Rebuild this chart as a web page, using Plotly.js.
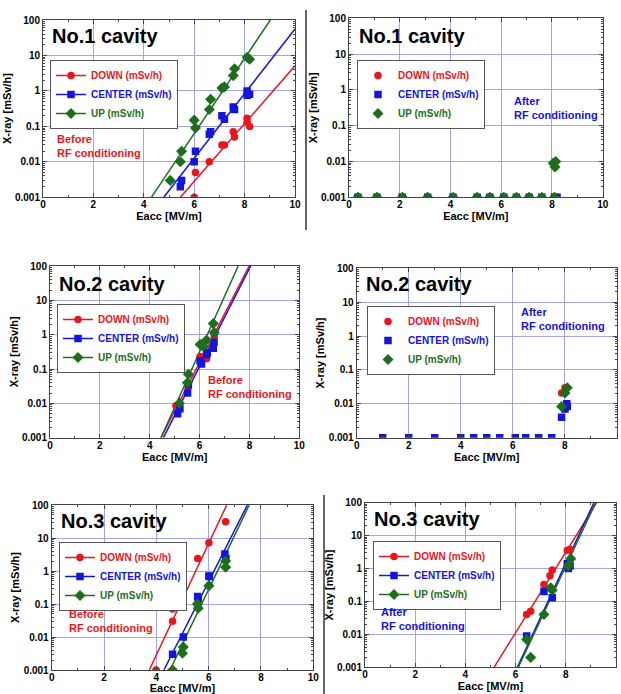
<!DOCTYPE html>
<html>
<head>
<meta charset="utf-8">
<script src="https://cdn.plot.ly/plotly-3.0.1.min.js"></script>
<style>html,body{margin:0;padding:0;background:#fff;}#chart{width:621px;height:694px;}</style>
</head>
<body>
<div id="chart"></div>
<script>
// ---------- tick labels ----------
const yTickVals = [0.001, 0.01, 0.1, 1, 10, 100];
const yTickText = ['0.001', '0.01', '0.1', '1', '10', '100'];
const seriesNames = ['DOWN (mSv/h)', 'CENTER (mSv/h)', 'UP (mSv/h)'];
const panelTitles = ['No.1 cavity', 'No.1 cavity', 'No.2 cavity', 'No.2 cavity', 'No.3 cavity', 'No.3 cavity'];

// ---------- Panel 1: No.1 before ----------
const p1DownX = [6.0, 6.05, 6.6, 7.1, 7.2, 7.55, 7.6, 8.1, 8.1, 8.2];
const p1DownY = [0.001, 0.005, 0.01, 0.03, 0.03, 0.07, 0.05, 0.17, 0.13, 0.1];
const p1CenterX = [5.45, 5.5, 6.0, 6.05, 6.6, 6.65, 7.1, 7.2, 7.55, 7.6, 8.1, 8.1, 8.2];
const p1CenterY = [0.002, 0.003, 0.01, 0.02, 0.06, 0.07, 0.2, 0.16, 0.35, 0.3, 1.0, 0.75, 0.8];
const p1UpX = [5.05, 5.45, 5.5, 6.0, 6.05, 6.6, 6.65, 7.1, 7.2, 7.55, 7.6, 8.1, 8.2];
const p1UpY = [0.003, 0.01, 0.02, 0.15, 0.09, 0.3, 0.58, 1.2, 1.3, 2.7, 4.2, 8.9, 7.8];
const p1DownFitX = [5.45, 10], p1DownFitY = [0.001, 5.1];
const p1CenterFitX = [4.79, 10], p1CenterFitY = [0.001, 56];
const p1UpFitX = [4.3, 9.02], p1UpFitY = [0.001, 100];

// ---------- Panel 2: No.1 after ----------
const p2DownX = [0.35, 1.1, 2.1, 3.1, 4.1, 5.05, 5.55, 6.1, 6.6, 7.1, 7.6, 8.1];
const p2DownY = [0.001, 0.001, 0.001, 0.001, 0.001, 0.001, 0.001, 0.001, 0.001, 0.001, 0.001, 0.001];
const p2CenterX = [0.35, 1.1, 2.1, 3.1, 4.1, 5.05, 5.55, 6.1, 6.6, 7.1, 7.6, 8.1, 8.2];
const p2CenterY = [0.001, 0.001, 0.001, 0.001, 0.001, 0.001, 0.001, 0.001, 0.001, 0.001, 0.001, 0.001, 0.001];
const p2UpX = [0.35, 1.1, 2.1, 3.1, 4.1, 5.05, 5.55, 6.1, 6.6, 7.1, 7.6, 8.1, 8.05, 8.15, 8.12];
const p2UpY = [0.001, 0.001, 0.001, 0.001, 0.001, 0.001, 0.001, 0.001, 0.001, 0.001, 0.001, 0.001, 0.009, 0.01, 0.007];

// ---------- Panel 3: No.2 before ----------
const p3DownX = [5.05, 5.55, 6.02, 6.28, 6.59];
const p3DownY = [0.0085, 0.03, 0.23, 0.2, 0.9];
const p3CenterX = [5.12, 5.21, 5.52, 5.55, 6.02, 6.08, 6.28, 6.31, 6.55, 6.58];
const p3CenterY = [0.005, 0.007, 0.02, 0.035, 0.17, 0.14, 0.26, 0.3, 0.4, 0.6];
const p3UpX = [5.19, 5.51, 5.55, 6.02, 6.08, 6.15, 6.28, 6.55, 6.59];
const p3UpY = [0.01, 0.04, 0.07, 0.52, 0.5, 0.45, 0.7, 2.1, 1.15];
const p3DownFitX = [4.45, 7.99], p3DownFitY = [0.001, 100];
const p3CenterFitX = [4.55, 8.05], p3CenterFitY = [0.001, 100];
const p3UpFitX = [4.45, 7.55], p3UpFitY = [0.001, 100];

// ---------- Panel 4: No.2 after ----------
const p4DownX = [7.88, 8.01];
const p4DownY = [0.021, 0.03];
const p4CenterX = [1, 2, 3, 4, 4.5, 5, 5.5, 6.1, 6.5, 7, 7.5, 7.88, 8.01, 8.08, 8.1];
const p4CenterY = [0.001, 0.001, 0.001, 0.001, 0.001, 0.001, 0.001, 0.001, 0.001, 0.001, 0.001, 0.004, 0.007, 0.01, 0.0083];
const p4UpX = [7.88, 8.01, 8.1];
const p4UpY = [0.0083, 0.021, 0.03];

// ---------- Panel 5: No.3 before ----------
const p5DownX = [3.99, 4.62, 4.62, 5.01, 5.58, 6.01, 6.65];
const p5DownY = [0.001, 0.03, 0.07, 0.28, 2.4, 7.2, 31];
const p5CenterX = [4.62, 5.03, 5.58, 5.6, 6.01, 6.03, 6.62, 6.66];
const p5CenterY = [0.003, 0.01, 0.17, 0.15, 0.7, 0.68, 3.3, 2.4];
const p5UpX = [4.62, 5.0, 5.03, 5.57, 5.6, 6.01, 6.65, 6.65];
const p5UpY = [0.001, 0.0032, 0.005, 0.1, 0.074, 0.36, 2.0, 1.3];
const p5DownFitX = [3.73, 6.69], p5DownFitY = [0.001, 100];
const p5CenterFitX = [4.29, 7.48], p5CenterFitY = [0.001, 100];
const p5UpFitX = [4.52, 7.55], p5UpFitY = [0.001, 100];

// ---------- Panel 6: No.3 after ----------
const p6DownX = [6.44, 6.6, 7.13, 7.37, 7.46, 8.06, 8.17];
const p6DownY = [0.04, 0.05, 0.33, 0.6, 0.9, 3.6, 3.8];
const p6CenterX = [6.44, 7.13, 7.46, 8.06, 8.1, 8.17];
const p6CenterY = [0.009, 0.2, 0.13, 1.4, 1.0, 1.2];
const p6UpX = [6.44, 6.6, 7.13, 7.4, 7.46, 8.1, 8.2];
const p6UpY = [0.007, 0.002, 0.04, 0.26, 0.22, 1.2, 2.0];
const p6DownFitX = [5.14, 9.23], p6DownFitY = [0.001, 100];
const p6CenterFitX = [6.07, 9.12], p6CenterFitY = [0.001, 100];
const p6UpFitX = [6.11, 9.19], p6UpFitY = [0.001, 100];

// ---------- styling ----------
const W = 621, H = 694;
const COLORS = ['#e8161c', '#1414dc', '#1c6e1c'];
const SYMBOLS = ['circle', 'square', 'diamond'];
const SIZES = [7.5, 7.5, 8.5];
const GRID = '#a4a4ee';
const FONT = 'Liberation Sans, Arial, sans-serif';

// plot-area boxes in pixels [left, right, top, bottom]
const boxes = [
  [43, 295, 20, 197.3],
  [349, 602.7, 18.3, 197.3],
  [50, 299.3, 266, 437.7],
  [356.7, 616.7, 268.3, 437.7],
  [51.7, 313.3, 505, 670],
  [365, 616, 502.7, 667.3]
];
const legendPos = [[50, 60], [357, 60], [57, 304], [367, 306], [59, 542], [373, 541]];
const titlePos = [[50, 36], [357, 36], [57, 284], [364, 284], [59, 521], [372, 519]];
const notePos = [[55, 146, 'Before<br>RF conditioning', 0], [512, 108, 'After<br>RF conditioning', 1],
                 [206, 387, 'Before<br>RF conditioning', 0], [519, 319, 'After<br>RF conditioning', 1],
                 [67, 621, 'Before<br>RF conditioning', 0], [379, 619, 'After<br>RF conditioning', 1]];

const panels = [
  {pts: [[p1DownX, p1DownY], [p1CenterX, p1CenterY], [p1UpX, p1UpY]],
   fits: [[p1DownFitX, p1DownFitY], [p1CenterFitX, p1CenterFitY], [p1UpFitX, p1UpFitY]]},
  {pts: [[p2DownX, p2DownY], [p2CenterX, p2CenterY], [p2UpX, p2UpY]], fits: null},
  {pts: [[p3DownX, p3DownY], [p3CenterX, p3CenterY], [p3UpX, p3UpY]],
   fits: [[p3DownFitX, p3DownFitY], [p3CenterFitX, p3CenterFitY], [p3UpFitX, p3UpFitY]]},
  {pts: [[p4DownX, p4DownY], [p4CenterX, p4CenterY], [p4UpX, p4UpY]], fits: null},
  {pts: [[p5DownX, p5DownY], [p5CenterX, p5CenterY], [p5UpX, p5UpY]],
   fits: [[p5DownFitX, p5DownFitY], [p5CenterFitX, p5CenterFitY], [p5UpFitX, p5UpFitY]]},
  {pts: [[p6DownX, p6DownY], [p6CenterX, p6CenterY], [p6UpX, p6UpY]],
   fits: [[p6DownFitX, p6DownFitY], [p6CenterFitX, p6CenterFitY], [p6UpFitX, p6UpFitY]]}
];

const traces = [];
const layout = {
  width: W, height: H,
  margin: {l: 0, r: 0, t: 0, b: 0},
  paper_bgcolor: '#fff', plot_bgcolor: '#fff',
  font: {family: FONT, color: '#000'},
  annotations: [], shapes: []
};

panels.forEach((p, i) => {
  const k = i + 1;
  const xa = k === 1 ? 'x' : 'x' + k;
  const ya = k === 1 ? 'y' : 'y' + k;
  const lg = k === 1 ? 'legend' : 'legend' + k;
  const b = boxes[i];
  if (p.fits) {
    p.fits.forEach((f, s) => {
      traces.push({x: f[0], y: f[1], xaxis: xa, yaxis: ya, mode: 'lines',
        line: {color: COLORS[s], width: 1.5}, showlegend: false, hoverinfo: 'skip'});
    });
  }
  p.pts.forEach((d, s) => {
    traces.push({x: d[0], y: d[1], xaxis: xa, yaxis: ya, mode: 'markers',
      marker: {color: COLORS[s], symbol: SYMBOLS[s], size: SIZES[s]}, showlegend: false});
  });
  seriesNames.forEach((n, s) => {
    traces.push({x: [null], y: [null], xaxis: xa, yaxis: ya,
      mode: p.fits ? 'lines+markers' : 'markers',
      name: '<span style="color:' + COLORS[s] + '">' + n + '</span>',
      line: {color: COLORS[s], width: 1.5},
      marker: {color: COLORS[s], symbol: SYMBOLS[s], size: SIZES[s]},
      legend: lg, showlegend: true});
  });
  const axKey = k === 1 ? '' : String(k);
  layout['xaxis' + axKey] = {
    domain: [b[0] / W, b[1] / W], anchor: ya, range: [0, 10], dtick: 2, tick0: 0,
    showgrid: true, gridcolor: GRID, gridwidth: 1, zeroline: false,
    showline: true, linecolor: '#444', linewidth: 1, mirror: 'ticks',
    ticks: 'inside', ticklen: 4, tickcolor: '#444', ticklabelstandoff: -2,
    minor: {ticks: 'inside', ticklen: 2, dtick: 1, tickcolor: '#444', showgrid: false},
    tickfont: {size: 10, weight: 'bold', color: '#000', family: FONT},
    title: {text: 'Eacc [MV/m]', font: {size: 11, weight: 'bold', color: '#000', family: FONT}, standoff: 0},
    fixedrange: true
  };
  layout['yaxis' + axKey] = {
    domain: [1 - b[3] / H, 1 - b[2] / H], anchor: xa, type: 'log', range: [-3, 2],
    tickmode: 'array', tickvals: yTickVals, ticktext: yTickText,
    showgrid: true, gridcolor: GRID, gridwidth: 1, zeroline: false,
    showline: true, linecolor: '#444', linewidth: 1, mirror: 'ticks',
    ticks: 'inside', ticklen: 4, tickcolor: '#444',
    minor: {ticks: 'inside', ticklen: 2, dtick: 'D1', tickcolor: '#444', showgrid: false},
    tickfont: {size: 10, weight: 'bold', color: '#000', family: FONT},
    title: {text: 'X-ray [mSv/h]', font: {size: 11, weight: 'bold', color: '#000', family: FONT}, standoff: 1},
    fixedrange: true
  };
  layout[lg] = {
    x: legendPos[i][0] / W, y: 1 - legendPos[i][1] / H, xanchor: 'left', yanchor: 'top',
    bgcolor: '#fff', bordercolor: '#555', borderwidth: 1,
    font: {size: 10, weight: 'bold', family: FONT}, itemwidth: 30, tracegroupgap: 0
  };
  layout.annotations.push({xref: 'paper', yref: 'paper', x: titlePos[i][0] / W, y: 1 - titlePos[i][1] / H,
    xanchor: 'left', yanchor: 'middle', showarrow: false, text: panelTitles[i],
    font: {size: 20, weight: 'bold', color: '#000', family: FONT}});
  const nt = notePos[i];
  layout.annotations.push({xref: 'paper', yref: 'paper', x: nt[0] / W, y: 1 - nt[1] / H,
    xanchor: 'left', yanchor: 'middle', align: 'left', showarrow: false, text: nt[2],
    font: {size: 11, weight: 'bold', color: nt[3] ? '#1414dc' : '#e8161c', family: FONT}});
});

layout.shapes.push({type: 'line', xref: 'paper', yref: 'paper', x0: 306 / W, x1: 306 / W,
  y0: 1 - 10 / H, y1: 1 - 230 / H, line: {color: '#000', width: 1.2}});
layout.shapes.push({type: 'line', xref: 'paper', yref: 'paper', x0: 324 / W, x1: 324 / W,
  y0: 1 - 495 / H, y1: 0, line: {color: '#000', width: 1.2}});

Plotly.newPlot('chart', traces, layout, {staticPlot: true, displayModeBar: false});
</script>
</body>
</html>
